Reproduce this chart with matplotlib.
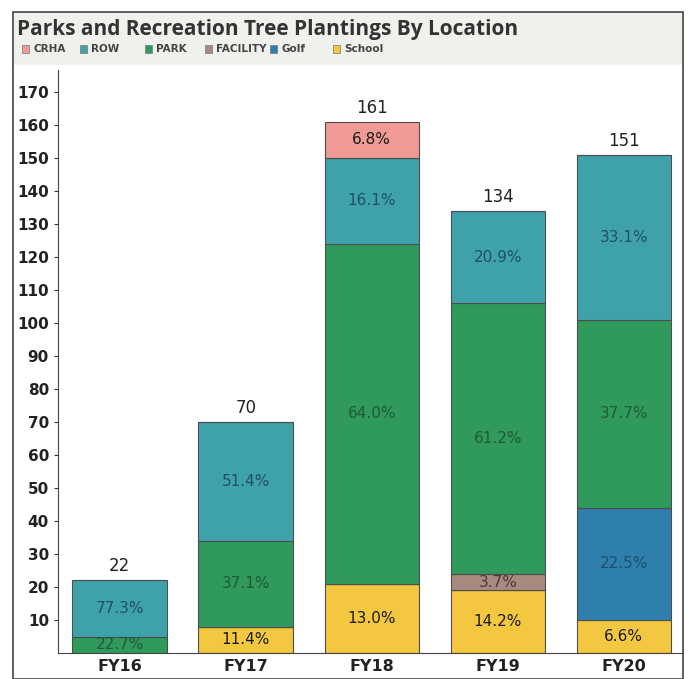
import matplotlib.pyplot as plt
from matplotlib.patches import Rectangle

years = ["FY16", "FY17", "FY18", "FY19", "FY20"]
totals = [22, 70, 161, 134, 151]
# stacked bottom to top
school = [0, 8, 21, 19, 10]
golf = [0, 0, 0, 0, 34]
facility = [0, 0, 0, 5, 0]
park = [5, 26, 103, 82, 57]
row = [17, 36, 26, 28, 50]
crha = [0, 0, 11, 0, 0]

school_pct = ["", "11.4%", "13.0%", "14.2%", "6.6%"]
golf_pct = ["", "", "", "", "22.5%"]
facility_pct = ["", "", "", "3.7%", ""]
park_pct = ["22.7%", "37.1%", "64.0%", "61.2%", "37.7%"]
row_pct = ["77.3%", "51.4%", "16.1%", "20.9%", "33.1%"]
crha_pct = ["", "", "6.8%", "", ""]

layers = [
    ("School", school, school_pct, "#f3c840", "#1a1a1a"),
    ("Golf", golf, golf_pct, "#2f7fae", "#1d4f6e"),
    ("FACILITY", facility, facility_pct, "#a98a80", "#4a3a36"),
    ("PARK", park, park_pct, "#2f9a5c", "#1f5a3a"),
    ("ROW", row, row_pct, "#3fa2ab", "#1f4f6a"),
    ("CRHA", crha, crha_pct, "#ef9a94", "#1a1a1a"),
]

fig = plt.figure(figsize=(6.89, 6.79), dpi=100)
W, H = 689, 679

# header band and outer frame
fig.patches.append(Rectangle((14 / W, 1 - 65 / H), 668 / W, 52 / H, transform=fig.transFigure,
                             facecolor="#eef1ec", edgecolor="none", zorder=-1))
fig.patches.append(Rectangle((13 / W, 0), 670 / W, 1 - 12 / H, transform=fig.transFigure,
                             facecolor="none", edgecolor="#444444", lw=1.2, zorder=5))
fig.text(17 / W, 1 - 30 / H, "Parks and Recreation Tree Plantings By Location",
         fontsize=15, family="Open Sans", fontweight="bold", color="#333333", va="center")

leg_x = [22, 80, 145, 205, 270, 333]
leg_order = ["CRHA", "ROW", "PARK", "FACILITY", "Golf", "School"]
lcolors = {n: c for n, _, _, c, _ in layers}
for x, name in zip(leg_x, leg_order):
    fig.patches.append(Rectangle((x / W, 1 - 53 / H), 7 / W, 8 / H, transform=fig.transFigure,
                                 facecolor=lcolors[name], edgecolor="#777777", lw=0.5))
    fig.text((x + 11) / W, 1 - 49 / H, name, fontsize=7.5, fontweight="bold",
             color="#444444", va="center", family="DejaVu Sans")

ax = fig.add_axes([58 / W, 1 - 653 / H, (683 - 58) / W, (653 - 70) / H])
ax.set_xlim(-0.49, 4.47)
ax.set_ylim(0, 176.7)

x = range(len(years))
bottom = [0] * len(years)
for name, vals, pcts, color, tcolor in layers:
    ax.bar(x, vals, bottom=bottom, width=0.75, color=color, edgecolor="#4d4d4d", lw=0.8)
    for i, (v, p) in enumerate(zip(vals, pcts)):
        if v > 0 and p:
            ax.text(i, bottom[i] + v / 2, p, ha="center", va="center", fontsize=11,
                    color=tcolor)
    bottom = [b + v for b, v in zip(bottom, vals)]

for i, t in enumerate(totals):
    ax.text(i, t + 1.5, str(t), ha="center", va="bottom", fontsize=12, color="#222222")

ax.set_yticks(range(10, 171, 10))
ax.set_xticks(list(x))
ax.set_xticklabels(years)
ax.tick_params(axis="y", labelsize=11, length=3, colors="#333333", labelcolor="#222222")
ax.tick_params(axis="x", labelsize=11.5, length=0, labelcolor="#222222", pad=4)
for lbl in ax.get_yticklabels() + ax.get_xticklabels():
    lbl.set_fontweight("bold")
for s in ["top", "right"]:
    ax.spines[s].set_visible(False)
ax.spines["left"].set_color("#444444")
ax.spines["bottom"].set_color("#444444")
ax.set_facecolor("none")

fig.savefig("out.png", dpi=100)
